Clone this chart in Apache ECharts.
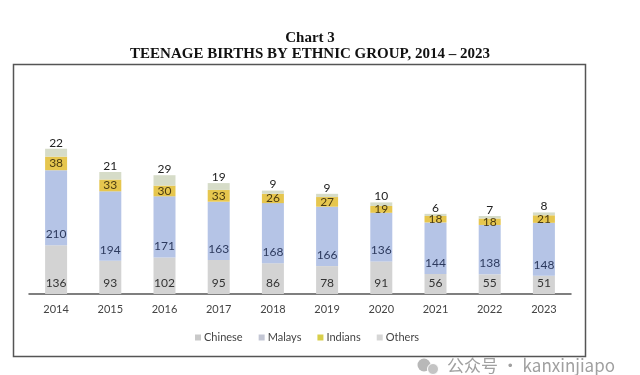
<!DOCTYPE html>
<html>
<head>
<meta charset="utf-8">
<script src="https://cdn.jsdelivr.net/npm/echarts@6/dist/echarts.min.js"></script>
<style>
  html, body { margin: 0; padding: 0; background: #fff; }
  #chart { width: 640px; height: 375px; }
</style>
</head>
<body>
<div id="chart"></div>
<script>
const years = ['2014', '2015', '2016', '2017', '2018', '2019', '2020', '2021', '2022', '2023'];
const chinese = [136, 93, 102, 95, 86, 78, 91, 56, 55, 51];
const malays = [210, 194, 171, 163, 168, 166, 136, 144, 138, 148];
const indians = [38, 33, 30, 33, 26, 27, 19, 18, 18, 21];
const others = [22, 21, 29, 19, 9, 9, 10, 6, 7, 8];

const chart = echarts.init(document.getElementById('chart'));

const labelFont = 'Lato, "Open Sans", sans-serif';

// legend icon colours differ a bit from the bars in the source image
const legendColors = ['#c9c9c9', '#c3c6d4', '#d8cf4a', '#d6d6d6'];

const option = {
    animation: false,
    title: {
        text: 'Chart 3\nTEENAGE BIRTHS BY ETHNIC GROUP, 2014 – 2023',
        left: 305,
        textAlign: 'center',
        top: 25,
        textStyle: {
            fontFamily: '"Liberation Serif", serif',
            fontWeight: 'bold',
            fontSize: 15,
            lineHeight: 16,
            color: '#111'
        }
    },
    grid: { left: 29, right: 69, top: 133, bottom: 81 },
    legend: {
        top: 327,
        left: 190,
        itemWidth: 6,
        itemHeight: 6,
        itemGap: 16,
        icon: 'rect',
        textStyle: { fontFamily: labelFont, fontSize: 11, color: '#444', padding: [0, 0, 0, -2] },
        data: [
            { name: 'Chinese', itemStyle: { color: legendColors[0] } },
            { name: 'Malays', itemStyle: { color: legendColors[1] } },
            { name: 'Indians', itemStyle: { color: legendColors[2] } },
            { name: 'Others', itemStyle: { color: legendColors[3] } }
        ]
    },
    xAxis: {
        type: 'category',
        data: years,
        axisLine: { lineStyle: { color: '#555', width: 1.5 } },
        axisTick: { show: false },
        axisLabel: { fontFamily: labelFont, fontSize: 11, color: '#444', margin: 10 }
    },
    yAxis: {
        type: 'value',
        min: 0,
        max: 450,
        show: false,
        splitLine: { show: false }
    },
    series: [
        {
            name: 'Chinese', type: 'bar', stack: 'total', data: chinese, barWidth: 22,
            itemStyle: { color: '#d3d3d3' },
            label: { show: true, position: 'insideBottom', distance: 5, fontFamily: labelFont, fontSize: 12, color: '#333' }
        },
        {
            name: 'Malays', type: 'bar', stack: 'total', data: malays, barWidth: 22,
            itemStyle: { color: '#b5c4e6' },
            label: { show: true, position: 'insideBottom', distance: 5, fontFamily: labelFont, fontSize: 12, color: '#2d3a5e' }
        },
        {
            name: 'Indians', type: 'bar', stack: 'total', data: indians, barWidth: 22,
            itemStyle: { color: '#e6c64e' },
            label: { show: true, position: 'inside', fontFamily: labelFont, fontSize: 12, color: '#4a3b12' }
        },
        {
            name: 'Others', type: 'bar', stack: 'total', data: others, barWidth: 22,
            itemStyle: { color: '#d6dcc8' },
            label: { show: true, position: 'top', distance: 0, fontFamily: labelFont, fontSize: 12, color: '#222' }
        }
    ],
    graphic: [
        {
            type: 'rect',
            shape: { x: 13.5, y: 64.5, width: 572, height: 292 },
            style: { fill: 'none', stroke: '#555', lineWidth: 1.5 },
            z: -1
        },
        // watermark icon (two speech bubbles)
        {
            type: 'circle',
            shape: { cx: 424, cy: 365, r: 6.5 },
            style: { fill: '#b8b8b8' }
        },
        {
            type: 'circle',
            shape: { cx: 433, cy: 369, r: 5.5 },
            style: { fill: '#c4c4c4', stroke: '#fff', lineWidth: 1 }
        },
        {
            type: 'text',
            left: 447,
            top: 357,
            style: {
                text: '公众号 · kanxinjiapo',
                font: '17px "Noto Sans CJK SC", sans-serif',
                fill: '#a0a0a0'
            }
        }
    ]
};

chart.setOption(option);
</script>
</body>
</html>
